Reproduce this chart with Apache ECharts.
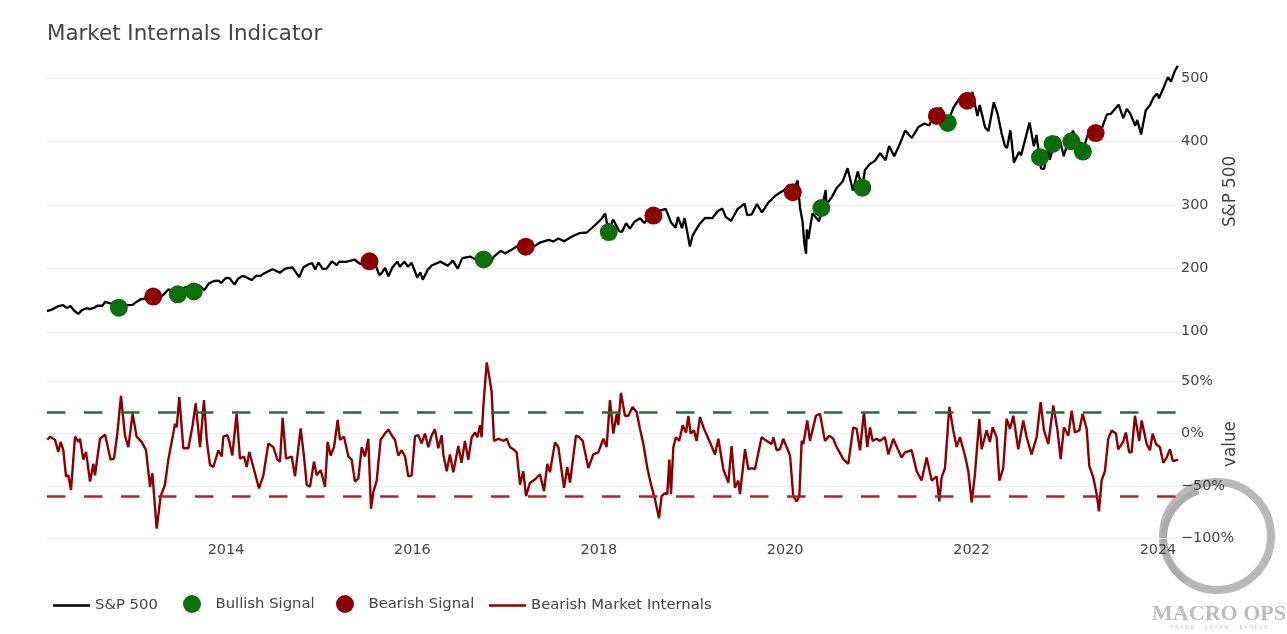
<!DOCTYPE html>
<html>
<head>
<meta charset="utf-8">
<script src="https://cdn.jsdelivr.net/npm/echarts@6/dist/echarts.min.js"></script>
<style>html,body{margin:0;padding:0;background:#fff}#chart{width:1287px;height:634px}</style>
</head>
<body>
<div id="chart"></div>
<script>
// ---------- DATA ----------
const spxDates = [
'2012-01-30','2012-02-15','2012-03-01','2012-03-15','2012-04-02','2012-04-16','2012-05-01','2012-05-15','2012-06-01','2012-06-15',
'2012-07-02','2012-07-16','2012-08-01','2012-08-15','2012-09-04','2012-09-14','2012-10-01','2012-10-15','2012-11-01','2012-11-15',
'2012-12-03','2012-12-14','2012-12-31','2013-01-15','2013-02-01','2013-02-15','2013-03-01','2013-03-15','2013-04-01','2013-04-18',
'2013-05-01','2013-05-21','2013-06-03','2013-06-24','2013-07-01','2013-07-22','2013-08-01','2013-08-27','2013-09-03','2013-09-18',
'2013-10-08','2013-10-25','2013-11-15','2013-12-02','2013-12-13','2013-12-31','2014-01-15','2014-02-03','2014-02-18','2014-03-07',
'2014-03-21','2014-04-11','2014-04-30','2014-05-15','2014-06-02','2014-06-20','2014-07-03','2014-07-31','2014-08-21','2014-09-18',
'2014-10-15','2014-10-31','2014-11-21','2014-12-05','2014-12-16','2014-12-29','2015-01-15','2015-01-30','2015-02-20','2015-03-11',
'2015-03-20','2015-04-15','2015-05-20','2015-06-08','2015-06-29','2015-07-20','2015-08-05','2015-08-24','2015-09-01','2015-09-16',
'2015-09-29','2015-10-15','2015-11-03','2015-11-13','2015-12-01','2015-12-14','2015-12-29','2016-01-20','2016-02-01','2016-02-11',
'2016-03-01','2016-03-17','2016-04-20','2016-05-19','2016-06-08','2016-06-27','2016-07-15','2016-08-15','2016-09-09','2016-09-22',
'2016-10-14','2016-11-04','2016-11-15','2016-12-13','2016-12-30','2017-01-26','2017-02-15','2017-03-01','2017-03-22','2017-04-13',
'2017-05-15','2017-06-19','2017-07-07','2017-07-27','2017-08-18','2017-09-18','2017-10-16','2017-11-15','2017-12-18','2018-01-12',
'2018-01-26','2018-02-08','2018-02-26','2018-03-23','2018-04-02','2018-04-18','2018-05-03','2018-05-21','2018-06-12','2018-06-28',
'2018-07-25','2018-08-15','2018-08-29','2018-09-20','2018-10-11','2018-10-29','2018-11-07','2018-11-23','2018-12-03','2018-12-24',
'2019-01-04','2019-01-31','2019-02-22','2019-03-22','2019-04-12','2019-04-30','2019-05-13','2019-06-03','2019-06-28','2019-07-26',
'2019-08-05','2019-08-23','2019-09-12','2019-10-02','2019-10-28','2019-11-27','2019-12-27','2020-01-17','2020-01-31','2020-02-19',
'2020-02-28','2020-03-09','2020-03-16','2020-03-23','2020-03-26','2020-04-01','2020-04-17','2020-05-13','2020-05-29','2020-06-08',
'2020-06-11','2020-07-02','2020-07-22','2020-08-14','2020-09-02','2020-09-23','2020-10-12','2020-10-30','2020-11-09','2020-11-27',
'2020-12-18','2021-01-08','2021-01-29','2021-02-12','2021-03-04','2021-03-26','2021-04-16','2021-05-12','2021-06-07','2021-06-30',
'2021-07-19','2021-08-06','2021-08-19','2021-09-02','2021-09-20','2021-10-04','2021-10-22','2021-11-18','2021-11-30','2021-12-10',
'2021-12-20','2022-01-04','2022-01-24','2022-02-02','2022-02-23','2022-03-08','2022-03-29','2022-04-13','2022-04-29','2022-05-12',
'2022-05-20','2022-06-02','2022-06-16','2022-07-06','2022-07-14','2022-08-16','2022-09-02','2022-09-12','2022-09-30','2022-10-12',
'2022-10-28','2022-11-03','2022-11-30','2022-12-13','2022-12-28','2023-01-13','2023-02-02','2023-02-24','2023-03-07','2023-03-13',
'2023-03-31','2023-04-18','2023-05-04','2023-05-26','2023-06-15','2023-06-30','2023-07-31','2023-08-18','2023-09-01','2023-09-15',
'2023-10-04','2023-10-12','2023-10-27','2023-11-14','2023-11-30','2023-12-15','2023-12-29','2024-01-05','2024-01-24','2024-02-09',
'2024-02-21','2024-03-08','2024-03-19'
];
const spxValues = [
132.5,134.5,137.5,140.5,141.8,137.5,140.5,133.5,128.2,134,
137.1,135.5,137.5,141,141,147,145,143.5,142.5,135,
141,142,142.4,147,151.2,152,152.1,156,156,154,
158.5,167,164,157,161,169.5,170.6,163,164,173,
165.5,176,180,180.5,177,184.7,184.6,174.2,184,188,
186,181.5,188.3,187.8,192.5,196,198.5,193,199.5,201.5,
186,201.5,206.5,208,198,209,199,199.5,211,205,
210.5,210,213.5,207.5,205.5,212.5,210.5,189.5,191.5,200.5,
187.5,201.5,210.5,202.5,210.5,202.5,208.5,185.5,193.5,182,
197.5,204.5,210.5,204,212,199.5,216,218.5,213,217,
213,208.5,218,227.5,223.5,229.5,234.5,239.8,233.7,232.5,
240.3,244.7,242.1,247,242.7,250,255.3,256.4,268.2,278,
286.6,257.6,277,258.1,257.5,271,262.6,273.4,278.9,271.3,
284.2,281.8,291,293.6,272.2,263.9,281,263.3,279.3,234.3,
252.4,269.9,279.5,279.2,290.2,294,280.9,274.6,293,302,
283.8,284.9,301.3,288.1,303.9,315.5,322.8,331.9,321.7,338.3,
296.3,274.2,239.9,222.9,261.2,246.2,286.6,274,304.3,323.2,
300.6,312.2,326.8,336.8,357.7,322.6,352.4,326.5,354.6,363.7,
369.2,381.3,370.1,392.6,376.7,395.9,417.3,405.4,422.6,428.1,
424.9,442.5,439.2,453.2,434,434.2,453.1,469.7,455.6,470.7,
454.9,477.7,439.8,457.4,421.9,416.3,461.6,443.3,412,392.3,
389.6,417.4,366.7,383.3,377.9,429.7,392.2,410,357.2,356.6,
389,371,407.7,401.9,376.7,398.5,416.8,396.4,398,385.4,
409.4,415,403,420,442.6,443.3,457.8,436.5,451.2,443.4,
424.7,433.7,410.7,448.7,456.4,469.3,475.3,467.9,485.4,501.2,
494,511.7,519
];

const bullishDates  = ['2012-11-07','2013-06-26','2013-08-28','2016-10-07','2018-02-09','2020-05-22','2020-10-30','2021-09-30','2022-09-26','2022-11-14','2023-01-27','2023-03-13'];
const bullishValues = [138,159,163.5,214,257,295,327,429,375,396,400,384];

const bearishDates  = ['2013-03-22','2015-07-17','2017-03-21','2018-08-03','2020-01-31','2021-08-18','2021-12-15','2023-05-02'];
const bearishValues = [155.5,211,234,283,320,440,464,413];

// Bearish Market Internals (%), dates as decimal years
const internalsYears = [
2012.083,2012.112,2012.165,2012.201,2012.226,2012.255,2012.283,2012.308,2012.337,2012.380,
2012.416,2012.433,2012.469,2012.498,2012.541,2012.577,2012.594,2012.648,2012.666,2012.702,
2012.762,2012.798,2012.834,2012.873,2012.916,2012.952,2012.998,2013.041,2013.095,2013.142,
2013.185,2013.210,2013.256,2013.299,2013.345,2013.381,2013.417,2013.453,2013.471,2013.499,
2013.542,2013.596,2013.642,2013.675,2013.721,2013.764,2013.793,2013.828,2013.864,2013.918,
2013.954,2013.971,2014.014,2014.036,2014.068,2014.114,2014.150,2014.193,2014.222,2014.250,
2014.293,2014.354,2014.401,2014.454,2014.508,2014.551,2014.579,2014.608,2014.644,2014.705,
2014.740,2014.801,2014.837,2014.866,2014.901,2014.944,2014.973,2015.016,2015.062,2015.091,
2015.123,2015.159,2015.198,2015.223,2015.266,2015.313,2015.348,2015.384,2015.420,2015.456,
2015.491,2015.527,2015.556,2015.581,2015.617,2015.659,2015.706,2015.742,2015.778,2015.813,
2015.849,2015.885,2015.921,2015.956,2015.992,2016.028,2016.064,2016.099,2016.135,2016.171,
2016.207,2016.242,2016.278,2016.314,
2016.332,2016.368,2016.403,2016.439,2016.493,2016.528,2016.564,2016.600,2016.636,2016.672,
2016.697,2016.725,2016.743,2016.761,2016.797,2016.825,2016.850,2016.876,2016.922,2016.940,
2016.983,2017.011,2017.047,2017.083,2017.119,2017.155,2017.190,2017.219,2017.262,2017.315,
2017.369,2017.412,2017.448,2017.476,2017.530,2017.566,2017.627,2017.662,2017.691,2017.755,
2017.791,2017.827,2017.888,2017.941,2017.995,2018.049,2018.084,2018.120,2018.156,2018.192,
2018.209,2018.238,2018.281,2018.317,2018.363,2018.406,2018.442,2018.478,2018.521,2018.556,
2018.603,2018.646,2018.674,2018.710,2018.735,2018.757,2018.775,2018.800,2018.828,2018.864,
2018.900,2018.936,2018.961,2018.986,2019.021,2019.050,2019.086,2019.122,2019.193,2019.247,
2019.283,2019.336,2019.390,2019.425,2019.461,2019.497,2019.515,2019.569,2019.604,2019.640,
2019.676,2019.747,2019.801,2019.855,2019.873,2019.908,2019.944,2019.980,2020.052,2020.087,
2020.123,2020.152,2020.177,2020.195,2020.237,2020.266,2020.330,2020.373,2020.427,2020.473,
2020.516,2020.552,
2020.624,2020.677,2020.731,2020.767,2020.803,2020.845,2020.881,2020.910,2020.938,2020.981,
2021.017,2021.071,2021.107,2021.160,2021.214,2021.250,2021.285,2021.357,2021.411,2021.464,
2021.518,2021.572,2021.625,2021.654,2021.679,2021.715,2021.761,2021.804,2021.840,2021.876,
2021.929,2021.965,2022.001,2022.036,2022.083,2022.108,2022.161,2022.197,2022.226,2022.269,
2022.298,2022.340,2022.376,2022.412,2022.448,2022.501,2022.555,2022.591,2022.644,2022.698,
2022.741,2022.777,2022.823,2022.877,2022.920,2022.956,2022.991,2023.038,2023.074,2023.109,
2023.156,2023.192,2023.235,2023.263,2023.306,2023.342,2023.367,2023.395,2023.431,2023.467,
2023.503,2023.549,2023.574,2023.627,2023.656,2023.691,2023.717,2023.753,2023.799,
2023.825,2023.879,2023.914,2023.943,2023.979,2024.021,2024.057,2024.093,2024.129,2024.158,2024.183,2024.215
];
const internalsValues = [
-6,-3,-6,-17.5,-8,-16,-41,-40,-54,-3,
-8,-5,-25,-17.5,-46,-29,-40,-5,-6,-1,
-25,-24,0,36,-2,-13,19,-3,-8,-16,
-51,-38,-91,-60,-49,-25,-8,9.5,6,35,
-14,-14,8,29,-13,32,-6,-30,-32,-16,
-22,-3,-1.6,-8,-21,19,-24,-22,-32,-17.5,
-32,-52.5,-40,-9.5,-13,-25,-27,15,-24,-22,
-41,5,-22,-49,-51,-27,-40,-35,-51,-8,
-21,-13,13,-6,-3,-22,-25,-46,-43,-13,
-22,-5,-72,-56,-45,-6,0,4,-1.6,-6,
-21,-16,-22,-41,-40,-2.5,-1.6,-9.5,0,-13,
-1.6,4,-14,-1.6,
-20,-36,-20,-37,-12,-28,-7,-25,-3.5,1,
-3.5,8,-3.5,25.5,68,54.5,40,-7,-5,-3.5,
-7,-5,-13,-15,-18,-49,-36,-60,-47,-44,
-39,-55,-29,-37,-8.4,-13,-52,-32,-47,-2,
-3.5,-7,-33,-20,-18,-5,-13,32,0,19,
8,39,17,17,25.5,20.6,4.5,-10,-33,-47,
-63,-81,-60,-57,-58,-25,-58,-13,-3.5,-7,
8,1,17,0,3,-7,16,6,-8.4,-20,
-5,-34,-47,-12,-52,-45,-58,-15,-34,-33,
-34,-3.5,-7,-10,-3.5,-16,-15,-5,-21,-60,
-65,-60,-7,-10,12.6,-7,17,19,-7,-2,
-5,-13,
-24.5,-29,6,4.5,-16,20.6,-13,6,-7,-5,
-7,-3.5,-20,-5,-16,-23,-18,-16,-36,-45,
-23,-45,-41,-65,-42,-33,25.5,3,-13,-3.5,
-21,-36,-66,-39,14,-15,3,-8,6,-3.5,
-45,-33,14,4.5,17,-15,12.6,-3.5,-20,-3.5,
30,3,-10,27,4.5,-24.5,6,-2,22,1,
3,19,4.5,-31,-42,-58,-74.5,-45,-36,-5,
3,0,-15,-8,1,-18,-18,17,-7,
12.6,-10,-16,0,-10,-13,-28,-23,-15,-26,-26,-25
];

const bullishThreshold = 20;   // %
const bearishThreshold = -60;  // %

const priceTicks = [100, 200, 300, 400, 500];
const pctTicks = [-100, -50, 0, 50];
const yearTicks = [2014, 2016, 2018, 2020, 2022, 2024];

// ---------- HELPERS ----------
// date string -> decimal year (x axis is a value axis in years)
function dateYear(s) {
  const p = s.split('-'); const Y = +p[0];
  const t = Date.UTC(Y, +p[1] - 1, +p[2]), a = Date.UTC(Y, 0, 1), b = Date.UTC(Y + 1, 0, 1);
  return Y + (t - a) / (b - a);
}

const spxData = spxDates.map((d, i) => [dateYear(d), spxValues[i]]);
const bullData = bullishDates.map((d, i) => [dateYear(d), bullishValues[i]]);
const bearData = bearishDates.map((d, i) => [dateYear(d), bearishValues[i]]);
const intData = internalsYears.map((y, i) => [y, internalsValues[i]]);

const xMin = Math.min(spxData[0][0], intData[0][0]);
const xMax = Math.max(spxData[spxData.length - 1][0], intData[intData.length - 1][0]);

const FONT = 'DejaVu Sans';
const TXT = '#444';
const LEG_TEXT = { color: TXT, fontSize: 14.8, fontFamily: FONT };
const LINE_ICON = 'path://M0,0L37,0L37,2.4L0,2.4Z';

function legendItem(name, left, top, icon) {
  return { left: left, top: top, itemWidth: 37, itemHeight: 18, icon: icon,
           textStyle: LEG_TEXT, data: [name] };
}

const chart = echarts.init(document.getElementById('chart'), null, { renderer: 'canvas' });
chart.setOption({
  animation: false,
  backgroundColor: '#fff',
  textStyle: { fontFamily: FONT },
  title: {
    text: 'Market Internals Indicator', left: 42, top: 19,
    textStyle: { fontSize: 21.4, fontWeight: 'normal', color: TXT, fontFamily: FONT }
  },
  grid: [
    { left: 47, right: 109, top: 43, height: 297 },
    { left: 47, right: 109, top: 350, height: 188 }
  ],
  xAxis: [
    { type: 'value', gridIndex: 0, min: xMin, max: xMax, scale: true,
      axisLine: { show: false }, axisTick: { show: false }, axisLabel: { show: false }, splitLine: { show: false } },
    { type: 'value', gridIndex: 1, min: xMin, max: xMax, scale: true,
      axisLine: { show: false },
      axisTick: { show: false, customValues: yearTicks },
      axisLabel: { customValues: yearTicks, formatter: v => String(Math.round(v)),
                   color: TXT, fontSize: 14.4, margin: 5, fontFamily: FONT },
      splitLine: { show: false } }
  ],
  yAxis: [
    { type: 'value', gridIndex: 0, position: 'right', min: 87, max: 555,
      name: 'S&P 500', nameLocation: 'middle', nameRotate: 90, nameGap: 44, nameMoveOverlap: false,
      nameTextStyle: { color: TXT, fontSize: 16.8, fontFamily: FONT },
      axisLine: { show: false },
      axisTick: { show: false, customValues: priceTicks },
      axisLabel: { customValues: priceTicks, color: TXT, fontSize: 14.4, margin: 3, fontFamily: FONT },
      splitLine: { show: true, lineStyle: { color: '#eee', width: 1 } } },
    { type: 'value', gridIndex: 1, position: 'right', min: -100, max: 80,
      name: 'value', nameLocation: 'middle', nameRotate: 90, nameGap: 44, nameMoveOverlap: false,
      nameTextStyle: { color: TXT, fontSize: 16.8, fontFamily: FONT },
      axisLine: { show: false },
      axisTick: { show: false, customValues: pctTicks },
      axisLabel: { customValues: pctTicks, color: TXT, fontSize: 14.4, margin: 3, fontFamily: FONT,
                   formatter: v => (v < 0 ? '\u2212' : '') + Math.abs(v) + '%' },
      splitLine: { show: true, lineStyle: { color: '#eee', width: 1 } } }
  ],
  legend: [
    legendItem('S&P 500', 48, 593, LINE_ICON),
    legendItem('Bullish Signal', 178, 590, 'circle'),
    legendItem('Bearish Signal', 331, 590, 'circle'),
    legendItem('Bearish Market Internals', 484, 593, LINE_ICON)
  ],
  graphic: [
    { type: 'circle', silent: true, z: -10, shape: { cx: 1217, cy: 536, r: 54 },
      style: { fill: 'none', stroke: '#b8b8b8', lineWidth: 8 } },
    { type: 'arc', silent: true, z: -10, shape: { cx: 1214, cy: 539, r: 50, startAngle: 2.2, endAngle: 4.4 },
      style: { fill: 'none', stroke: '#adadad', lineWidth: 6 } },
    { type: 'text', silent: true, z: -10, x: 1219, y: 614,
      style: { text: 'MACRO OPS', fill: '#bdbdbd', font: 'bold 22px "Liberation Serif"', textAlign: 'center', textVerticalAlign: 'middle' } },
    { type: 'text', silent: true, z: -10, x: 1219, y: 628,
      style: { text: 'T R A D E   -   L E A R N   -   E V O L V E', fill: '#c4c4c4', font: '5px "DejaVu Sans"', textAlign: 'center', textVerticalAlign: 'middle' } }
  ],
  series: [
    { name: 'S&P 500', type: 'line', xAxisIndex: 0, yAxisIndex: 0, data: spxData,
      symbol: 'none', lineStyle: { color: '#000', width: 2.3 }, itemStyle: { color: '#000' }, z: 2 },
    { name: 'Bullish Signal', type: 'scatter', xAxisIndex: 0, yAxisIndex: 0, data: bullData,
      symbol: 'circle', symbolSize: 18, itemStyle: { color: '#0a6e0a', opacity: 1 }, z: 5 },
    { name: 'Bearish Signal', type: 'scatter', xAxisIndex: 0, yAxisIndex: 0, data: bearData,
      symbol: 'circle', symbolSize: 18, itemStyle: { color: '#8b0000', opacity: 1 }, z: 5 },
    { name: 'Bearish Market Internals', type: 'line', xAxisIndex: 1, yAxisIndex: 1, data: intData,
      symbol: 'none', lineStyle: { color: '#8b0000', width: 2.4 }, itemStyle: { color: '#8b0000' }, z: 2,
      markLine: {
        silent: true, symbol: ['none', 'none'], label: { show: false },
        data: [
          { yAxis: bullishThreshold, lineStyle: { color: '#236b3f', width: 2.5, type: [18.5, 18.5] } },
          { yAxis: bearishThreshold, lineStyle: { color: '#b2222a', width: 2.5, type: [18.5, 18.5] } }
        ]
      } }
  ]
});
</script>
</body>
</html>
